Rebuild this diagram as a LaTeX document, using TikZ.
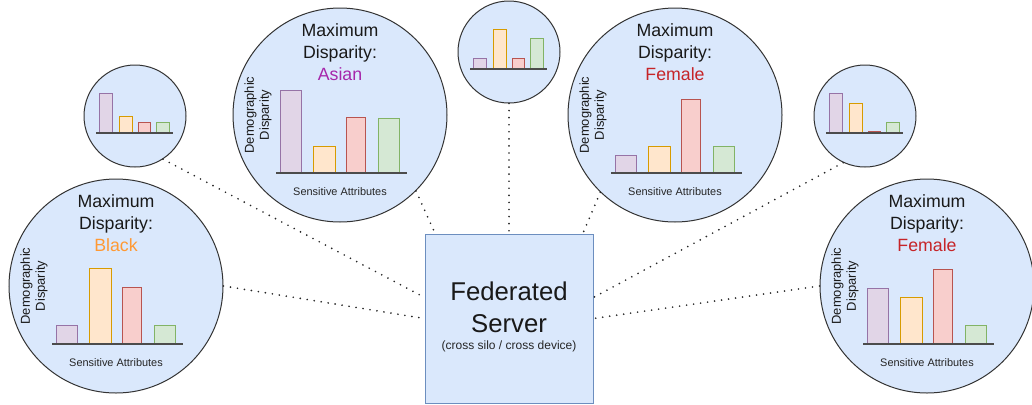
\documentclass[tikz,border=0pt]{standalone}
\usepackage{fontspec}
\setmainfont{Liberation Sans}
\usepackage{tikz}
\definecolor{paleblue}{RGB}{218, 232, 252}
\definecolor{steelblue}{RGB}{108, 142, 191}
\definecolor{lilac}{RGB}{225, 213, 231}
\definecolor{lilacdark}{RGB}{150, 115, 166}
\definecolor{peach}{RGB}{255, 230, 204}
\definecolor{amber}{RGB}{215, 155, 0}
\definecolor{rose}{RGB}{248, 206, 204}
\definecolor{brick}{RGB}{184, 84, 80}
\definecolor{mint}{RGB}{213, 232, 212}
\definecolor{leaf}{RGB}{130, 179, 102}
\definecolor{tangerine}{RGB}{255, 153, 51}
\definecolor{magenta}{RGB}{166, 38, 170}
\definecolor{crimson}{RGB}{198, 36, 40}

\tikzset{
    client/.style={circle, draw=black!80, fill=paleblue, line width=0.75pt, inner sep=0pt, minimum size=160.5pt},
    smallclient/.style={client, minimum size=76.5pt},
    server/.style={rectangle, draw=steelblue, fill=paleblue, line width=0.75pt, inner sep=0pt, minimum width=126pt, minimum height=126.75pt},
    link/.style={black!85, line width=1.4pt, line cap=round, dash pattern=on 0pt off 5.3pt},
    axisline/.style={black!70, line width=1.1pt},
    purplebar/.style={fill=lilac, draw=lilacdark, line width=0.75pt},
    orangebar/.style={fill=peach, draw=amber, line width=0.75pt},
    redbar/.style={fill=rose, draw=brick, line width=0.75pt},
    greenbar/.style={fill=mint, draw=leaf, line width=0.75pt},
    maxtitle/.style={align=center, text=black!90, font=\fontsize{13.3}{16.5}\selectfont},
    ylab/.style={rotate=90, align=center, text=black!90, font=\fontsize{9.7}{11.3}\selectfont},
    xlab/.style={text=black!85, font=\fontsize{8.2}{10}\selectfont},
}

\begin{document}
\begin{tikzpicture}[x=0.75pt, y=-0.75pt]
    \useasboundingbox (0,0) rectangle (1032,404);

    % clients and server
    \node[client]      (clientblack)  at (116,286) {};
    \node[client]      (clientasian)  at (340,115) {};
    \node[smallclient] (clientmid)    at (509,52)  {};
    \node[client]      (clientfemale) at (675,115) {};
    \node[client]      (clientright)  at (927,286) {};
    \node[smallclient] (clientleft)   at (135,116) {};
    \node[smallclient] (clientsmall)  at (865,116) {};
    \node[server]      (server)       at (509,318.5) {};

    % dotted links
    \draw[link] (clientblack.0)    -- (server.west);
    \draw[link] (clientleft.-57)   -- (server.166);
    \draw[link] (clientasian.-45)  -- (server.131.6);
    \draw[link] (clientmid.south)  -- (server.north);
    \draw[link] (clientfemale.226) -- (server.49);
    \draw[link] (clientsmall.245)  -- (server.14);
    \draw[link] (clientright.180)  -- (server.east);

    \node[text=black!90, align=center, font=\fontsize{19.3}{24}\selectfont] (servername) at (509,307) {Federated\\Server};
    \node[text=black!85, font=\fontsize{9}{11}\selectfont] (serverkind) at (509,346) {(cross silo / cross device)};

    % left big chart
    \begin{scope}[shift={(116,286)}]
        \node[maxtitle] (blacktitle) at (0,-63) {Maximum\\Disparity:\\\textcolor{tangerine}{Black}};
        \node[ylab] (blackylab) at (-82,0) {Demographic\\Disparity};
        \node[xlab] (blackxlab) at (0,77) {Sensitive Attributes};
        \filldraw[purplebar] (-60,58) rectangle (-39,39);
        \filldraw[orangebar] (-27,58) rectangle (-5,-18);
        \filldraw[redbar]    (6,58)   rectangle (25,1);
        \filldraw[greenbar]  (38,58)  rectangle (59,39);
        \draw[axisline] (-64,58) -- (67,58);
    \end{scope}

    % asian chart
    \begin{scope}[shift={(340,115)}]
        \node[maxtitle] (asiantitle) at (0,-63) {Maximum\\Disparity:\\\textcolor{magenta}{Asian}};
        \node[ylab] (asianylab) at (-82,0) {Demographic\\Disparity};
        \node[xlab] (asianxlab) at (0,77) {Sensitive Attributes};
        \filldraw[purplebar] (-60,58) rectangle (-39,-25);
        \filldraw[orangebar] (-27,58) rectangle (-5,31);
        \filldraw[redbar]    (6,58)   rectangle (25,2);
        \filldraw[greenbar]  (38,58)  rectangle (59,3);
        \draw[axisline] (-64,58) -- (67,58);
    \end{scope}

    % female chart, top
    \begin{scope}[shift={(675,115)}]
        \node[maxtitle] (femaletitle) at (0,-63) {Maximum\\Disparity:\\\textcolor{crimson}{Female}};
        \node[ylab] (femaleylab) at (-82,0) {Demographic\\Disparity};
        \node[xlab] (femalexlab) at (0,77) {Sensitive Attributes};
        \filldraw[purplebar] (-60,58) rectangle (-39,40);
        \filldraw[orangebar] (-27,58) rectangle (-5,31);
        \filldraw[redbar]    (6,58)   rectangle (25,-16);
        \filldraw[greenbar]  (38,58)  rectangle (59,31);
        \draw[axisline] (-64,58) -- (67,58);
    \end{scope}

    % female chart, right
    \begin{scope}[shift={(927,286)}]
        \node[maxtitle] (righttitle) at (0,-63) {Maximum\\Disparity:\\\textcolor{crimson}{Female}};
        \node[ylab] (rightylab) at (-82,0) {Demographic\\Disparity};
        \node[xlab] (rightxlab) at (0,77) {Sensitive Attributes};
        \filldraw[purplebar] (-60,58) rectangle (-39,2);
        \filldraw[orangebar] (-27,58) rectangle (-5,11);
        \filldraw[redbar]    (6,58)   rectangle (25,-17);
        \filldraw[greenbar]  (38,58)  rectangle (59,39);
        \draw[axisline] (-64,58) -- (67,58);
    \end{scope}

    % small charts
    \begin{scope}[shift={(509,52)}]
        \filldraw[purplebar] (-36,17) rectangle (-23,6);
        \filldraw[orangebar] (-16,17) rectangle (-3,-23);
        \filldraw[redbar]    (3,17)   rectangle (15,6);
        \filldraw[greenbar]  (21,17)  rectangle (34,-14);
        \draw[axisline] (-39,17) -- (38,17);
    \end{scope}
    \begin{scope}[shift={(135,116)}]
        \filldraw[purplebar] (-36,17) rectangle (-23,-23);
        \filldraw[orangebar] (-16,17) rectangle (-3,0);
        \filldraw[redbar]    (3,17)   rectangle (15,6);
        \filldraw[greenbar]  (21,17)  rectangle (34,6);
        \draw[axisline] (-39,17) -- (38,17);
    \end{scope}
    \begin{scope}[shift={(865,116)}]
        \filldraw[purplebar] (-36,17) rectangle (-23,-23);
        \filldraw[orangebar] (-16,17) rectangle (-3,-13);
        \filldraw[redbar]    (3,17)   rectangle (15,15);
        \filldraw[greenbar]  (21,17)  rectangle (34,6);
        \draw[axisline] (-39,17) -- (38,17);
    \end{scope}
\end{tikzpicture}
\end{document}
